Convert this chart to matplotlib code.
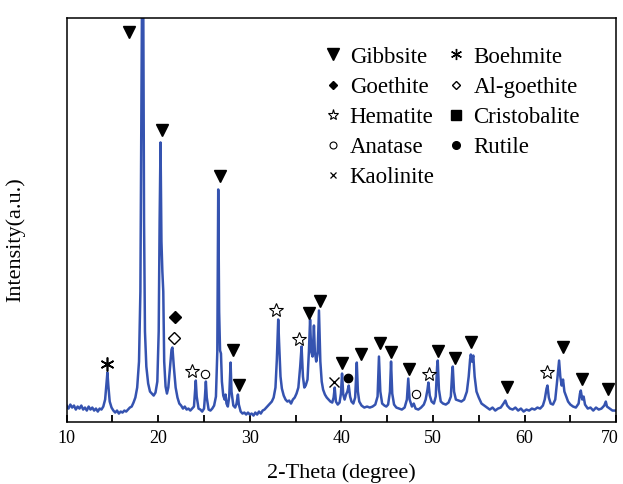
"""XRD pattern of the bauxite sample with phase markers."""

# =============================================================================
# Imports
# =============================================================================
import matplotlib
matplotlib.use("Agg")
import matplotlib.pyplot as plt
import matplotlib.transforms as mtransforms
from matplotlib.lines import Line2D
from matplotlib.ticker import MultipleLocator

# =============================================================================
# Data
# =============================================================================
two_theta = [
    10.0, 10.2, 10.4, 10.6, 10.8, 11.0, 11.2, 11.4, 11.6, 11.8, 12.0, 12.2, 12.4, 12.6, 12.8,
    13.0, 13.2, 13.4, 13.6, 13.8, 14.0, 14.2, 14.35, 14.45, 14.55, 14.7, 14.9, 15.1, 15.3, 15.5,
    15.7, 15.9, 16.1, 16.3, 16.5, 16.7, 16.9, 17.1, 17.3, 17.5, 17.7, 17.9, 18.05, 18.15, 18.25,
    18.35, 18.45, 18.55, 18.7, 18.9, 19.1, 19.3, 19.5, 19.7, 19.9, 20.05, 20.15, 20.25, 20.35,
    20.45, 20.55, 20.65, 20.8, 20.95, 21.1, 21.3, 21.45, 21.55, 21.7, 21.9, 22.1, 22.3, 22.5,
    22.7, 22.9, 23.1, 23.3, 23.5, 23.7, 23.9, 24.0, 24.1, 24.2, 24.4, 24.6, 24.8, 25.0, 25.1,
    25.2, 25.3, 25.5, 25.7, 25.9, 26.1, 26.3, 26.45, 26.55, 26.65, 26.75, 26.85, 26.95, 27.1,
    27.25, 27.35, 27.45, 27.6, 27.75, 27.9, 28.0, 28.2, 28.4, 28.55, 28.7, 28.8, 29.0, 29.2,
    29.4, 29.6, 29.8, 30.0, 30.2, 30.4, 30.6, 30.8, 31.0, 31.2, 31.4, 31.6, 31.8, 32.0, 32.2,
    32.4, 32.6, 32.8, 32.95, 33.1, 33.2, 33.35, 33.5, 33.7, 33.9, 34.1, 34.3, 34.5, 34.7, 34.9,
    35.1, 35.3, 35.5, 35.65, 35.8, 35.95, 36.1, 36.3, 36.45, 36.58, 36.7, 36.85, 37.0, 37.1,
    37.25, 37.4, 37.55, 37.7, 37.85, 38.0, 38.2, 38.4, 38.6, 38.8, 39.0, 39.15, 39.27, 39.4,
    39.6, 39.8, 39.95, 40.07, 40.2, 40.35, 40.5, 40.65, 40.8, 40.95, 41.1, 41.3, 41.5, 41.68,
    41.8, 41.95, 42.2, 42.5, 42.8, 43.1, 43.4, 43.7, 43.95, 44.1, 44.25, 44.45, 44.7, 44.9,
    45.1, 45.3, 45.42, 45.55, 45.75, 46.0, 46.3, 46.6, 46.9, 47.15, 47.3, 47.45, 47.7, 47.9,
    48.1, 48.4, 48.7, 49.0, 49.2, 49.4, 49.5, 49.65, 49.85, 50.1, 50.3, 50.45, 50.52, 50.65,
    50.85, 51.1, 51.4, 51.7, 51.95, 52.1, 52.16, 52.3, 52.5, 52.8, 53.1, 53.4, 53.7, 53.9,
    54.05, 54.13, 54.25, 54.4, 54.55, 54.75, 55.0, 55.3, 55.6, 55.9, 56.2, 56.5, 56.8, 57.1,
    57.4, 57.7, 57.9, 58.1, 58.4, 58.7, 59.0, 59.3, 59.6, 59.9, 60.2, 60.5, 60.8, 61.1, 61.4,
    61.7, 62.0, 62.2, 62.4, 62.5, 62.65, 62.85, 63.1, 63.35, 63.55, 63.77, 63.9, 64.05, 64.2,
    64.35, 64.55, 64.75, 65.0, 65.3, 65.6, 65.9, 66.05, 66.14, 66.3, 66.45, 66.6, 66.9, 67.2,
    67.5, 67.8, 68.1, 68.4, 68.7, 68.87, 69.0, 69.3, 69.6, 70.0]

intensity = [
    16, 13, 17, 14, 16, 12, 15, 13, 16, 12, 14, 11, 15, 12, 14,
    11, 13, 10, 13, 12, 15, 22, 38, 49, 36, 20, 14, 11, 9, 11,
    8, 10, 9, 11, 10, 12, 14, 15, 19, 24, 34, 60, 130, 300, 460,
    460, 200, 90, 55, 38, 30, 28, 26, 29, 40, 90, 200, 279, 180,
    150, 130, 60, 35, 28, 34, 55, 72, 74, 55, 34, 24, 18, 16,
    13, 15, 12, 13, 11, 13, 15, 28, 41, 25, 13, 12, 10, 13, 25,
    40, 24, 12, 11, 13, 16, 25, 70, 232, 110, 71, 68, 40, 26,
    22, 27, 18, 15, 25, 59, 30, 16, 14, 18, 27, 17, 10, 8,
    9, 7, 9, 7, 8, 6, 9, 7, 10, 8, 11, 12, 14, 16, 18,
    20, 24, 34, 62, 102, 78, 45, 33, 26, 22, 20, 21, 18, 22, 24,
    28, 34, 55, 75, 45, 34, 36, 42, 70, 102, 70, 65, 96, 70,
    60, 68, 111, 60, 40, 32, 27, 24, 22, 20, 19, 24, 34, 20,
    17, 19, 28, 48, 27, 22, 27, 30, 36, 25, 20, 18, 24, 59,
    30, 20, 16, 14, 15, 14, 15, 17, 25, 65, 30, 18, 16, 15,
    17, 30, 60, 28, 17, 14, 13, 12, 14, 22, 43, 22, 15, 18,
    13, 12, 14, 17, 22, 32, 39, 26, 20, 18, 25, 55, 61, 32,
    20, 18, 17, 19, 25, 50, 55, 30, 22, 21, 20, 22, 30, 45,
    62, 67, 60, 66, 45, 30, 24, 18, 16, 14, 12, 14, 11, 13,
    14, 18, 21, 16, 13, 12, 14, 11, 13, 10, 12, 11, 13, 12, 14,
    13, 16, 22, 33, 36, 24, 18, 17, 22, 40, 61, 45, 36, 42,
    30, 25, 20, 17, 15, 14, 18, 28, 31, 22, 25, 17, 13, 14,
    11, 14, 12, 13, 16, 20, 15, 13, 11, 11]

# Phase markers: (2-theta, height) where the symbol sits above a peak
gibbsite_x = [16.84, 20.38, 26.75, 28.13, 28.85, 36.50, 37.70, 40.04, 42.15, 44.22,
              45.46, 47.42, 50.59, 52.41, 54.19, 58.13, 64.18, 66.32, 69.16]
gibbsite_y = [389, 291, 245, 72, 37, 109, 121, 59, 68, 79,
              70, 53, 71, 64, 80, 35, 75, 43, 33]
boehmite_x = [14.43]
boehmite_y = [58]
goethite_x = [21.86]
goethite_y = [105]
al_goethite_x = [21.75]
al_goethite_y = [84]
hematite_x = [23.65, 32.83, 35.37, 49.61, 62.43]
hematite_y = [51, 112, 83, 48, 50]
anatase_x = [25.11, 48.15]
anatase_y = [48, 28]
kaolinite_x = [39.16]
kaolinite_y = [40]
rutile_x = [40.73]
rutile_y = [44]

# =============================================================================
# Plot
# =============================================================================
plt.rcParams["font.family"] = "serif"
plt.rcParams["font.serif"] = ["Liberation Serif", "DejaVu Serif"]

fig = plt.figure(figsize=(6.23, 4.84), dpi=100)
ax = fig.add_axes([0.107, 0.129, 0.882, 0.834])

ax.plot(two_theta, intensity, color="#3553b0", lw=1.8, zorder=2)

black = "black"
ax.plot(gibbsite_x, gibbsite_y, ls="none", marker="v", ms=9, color=black)
ax.plot(boehmite_x, boehmite_y, ls="none", marker=(6, 2, 0), ms=10, mew=1.2, color=black)
ax.plot(goethite_x, goethite_y, ls="none", marker="D", ms=6.5, color=black)
ax.plot(al_goethite_x, al_goethite_y, ls="none", marker="D", ms=6.5, mfc="white", mew=1, color=black)
ax.plot(hematite_x, hematite_y, ls="none", marker="*", ms=10, mfc="white", mew=0.8, color=black)
ax.plot(anatase_x, anatase_y, ls="none", marker="o", ms=6, mfc="white", mew=0.8, color=black)
ax.plot(kaolinite_x, kaolinite_y, ls="none", marker="x", ms=6.5, mew=1, color=black)
ax.plot(rutile_x, rutile_y, ls="none", marker="o", ms=6, color=black)

ax.set_xlim(10, 70)
ax.set_ylim(0, 403.5)

# Axes and ticks
ax.xaxis.set_major_locator(MultipleLocator(10))
ax.xaxis.set_minor_locator(MultipleLocator(5))
ax.tick_params(axis="x", which="both", direction="in", length=5, width=1.3,
               labelsize=13, pad=6)
ax.tick_params(axis="y", left=False, labelleft=False)
for spine in ax.spines.values():
    spine.set_linewidth(1.1)

# Nudge the last tick label so it stays inside the figure
fig.canvas.draw()
last = ax.xaxis.get_major_ticks()[-1].label1
if last.get_text() != "70":
    last = [t for t in ax.get_xticklabels() if t.get_text() == "70"][0]
last.set_transform(last.get_transform() + mtransforms.ScaledTranslation(-6 / 100, 0, fig.dpi_scale_trans))

ax.set_xlabel("2-Theta (degree)", fontsize=16, labelpad=12)
ax.set_ylabel("Intensity(a.u.)", fontsize=16)
ax.yaxis.set_label_coords(-0.075, 0.45)

# Legend
handles = [
    Line2D([], [], ls="none", marker="v", ms=8, color=black, label="Gibbsite"),
    Line2D([], [], ls="none", marker="D", ms=4.5, color=black, label="Goethite"),
    Line2D([], [], ls="none", marker="*", ms=8, mfc="white", mew=0.8, color=black, label="Hematite"),
    Line2D([], [], ls="none", marker="o", ms=5, mfc="white", mew=0.8, color=black, label="Anatase"),
    Line2D([], [], ls="none", marker="x", ms=5, mew=0.9, color=black, label="Kaolinite"),
    Line2D([], [], ls="none", marker=(6, 2, 0), ms=8, mew=1, color=black, label="Boehmite"),
    Line2D([], [], ls="none", marker="D", ms=4.5, mfc="white", mew=1, color=black, label="Al-goethite"),
    Line2D([], [], ls="none", marker="s", ms=6.5, color=black, label="Cristobalite"),
    Line2D([], [], ls="none", marker="o", ms=5.5, color=black, label="Rutile"),
]
ax.legend(handles=handles, ncol=2, frameon=False, fontsize=16.5,
          loc="upper left", bbox_to_anchor=(0.519, 0.904), bbox_transform=fig.transFigure,
          borderaxespad=0, borderpad=0, handlelength=0.8, handletextpad=0.35,
          columnspacing=0.55, labelspacing=0.4)

plt.savefig("out.png", dpi=100)
